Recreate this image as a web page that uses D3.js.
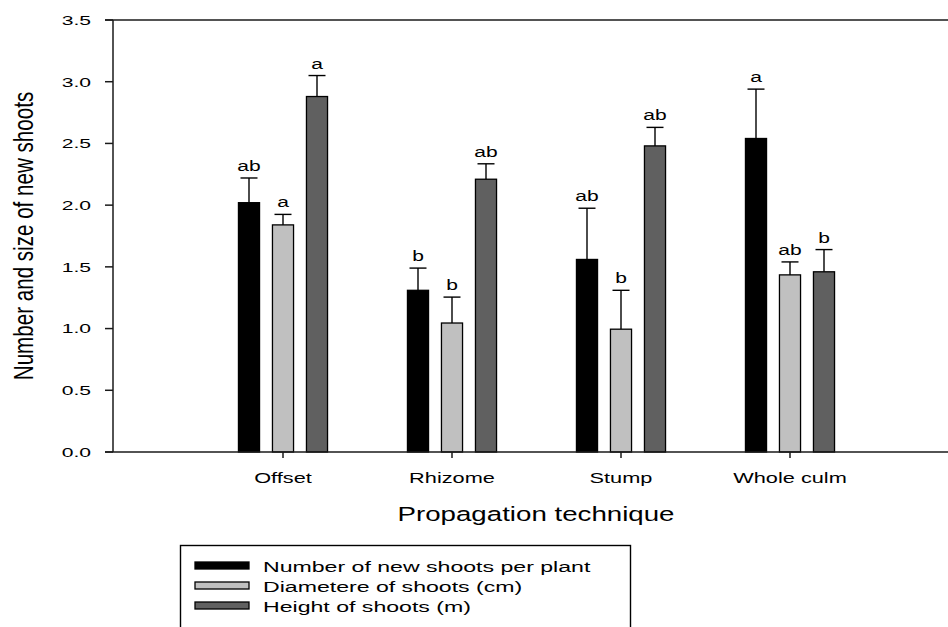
<!DOCTYPE html>
<html><head><meta charset="utf-8">
<script src="https://cdn.jsdelivr.net/npm/d3@7"></script>
<style>body{margin:0;background:#fff}svg{display:block}text{font-family:"Liberation Sans",Arial,sans-serif;fill:#000}</style>
</head><body><svg id="c" width="948" height="627"></svg>
<script>
const categories = ["Offset", "Rhizome", "Stump", "Whole culm"];
const seriesNames = ["Number of new shoots per plant", "Diametere of shoots (cm)", "Height of shoots (m)"];
const shootsNumber = [2.02, 1.31, 1.56, 2.54];
const shootsNumberErr = [0.20, 0.18, 0.415, 0.40];
const shootsDiameter = [1.84, 1.045, 0.995, 1.435];
const shootsDiameterErr = [0.085, 0.21, 0.315, 0.105];
const shootsHeight = [2.88, 2.21, 2.48, 1.46];
const shootsHeightErr = [0.17, 0.125, 0.15, 0.18];
const lettersNumber = ["ab", "b", "ab", "a"];
const lettersDiameter = ["a", "b", "b", "ab"];
const lettersHeight = ["a", "ab", "ab", "b"];
const yTicks = [0, 0.5, 1.0, 1.5, 2.0, 2.5, 3.0, 3.5];
const colors = ["#000000", "#c0c0c0", "#606060"];

const series = [
  {name: seriesNames[0], values: shootsNumber, errs: shootsNumberErr, letters: lettersNumber, color: colors[0]},
  {name: seriesNames[1], values: shootsDiameter, errs: shootsDiameterErr, letters: lettersDiameter, color: colors[1]},
  {name: seriesNames[2], values: shootsHeight, errs: shootsHeightErr, letters: lettersHeight, color: colors[2]}
];

const svg = d3.select("#c");
const axL = 113, axTop = 20, axBot = 452, axRight = 948;
const y = d3.scaleLinear().domain([0, 3.5]).range([axBot, axTop]);
const x = d3.scaleBand().domain(categories).range([198.5, 874.5]).padding(0);
const xs = d3.scaleBand().domain(d3.range(series.length)).range([-51, 51]).paddingInner(0.38).paddingOuter(0.19);

function sText(parent, tx, ty, sx, str, size, anchor) {
  return parent.append("text")
    .attr("transform", `translate(${tx},${ty}) scale(${sx},1)`)
    .attr("text-anchor", anchor || "middle")
    .attr("font-size", size)
    .text(str);
}

series.forEach((s, si) => {
  const g = svg.append("g");
  categories.forEach((c, ci) => {
    const cx = x(c) + x.bandwidth() / 2;
    const bx = cx + xs(si);
    const v = s.values[ci], e = s.errs[ci];
    const midx = bx + xs.bandwidth() / 2;
    g.append("line").attr("x1", midx).attr("x2", midx).attr("y1", y(v)).attr("y2", y(v + e))
      .attr("stroke", "#000").attr("stroke-width", 1.4);
    g.append("line").attr("x1", midx - 8.5).attr("x2", midx + 8.5).attr("y1", y(v + e)).attr("y2", y(v + e))
      .attr("stroke", "#000").attr("stroke-width", 1.4);
    g.append("rect").attr("x", bx).attr("y", y(v)).attr("width", xs.bandwidth()).attr("height", y(0) - y(v))
      .attr("fill", s.color).attr("stroke", "#000").attr("stroke-width", 1.3);
    sText(g, midx, y(v + e) - 7, 1.45, s.letters[ci], 14.5);
  });
});

const ax = svg.append("g").attr("stroke", "#1a1a1a").attr("stroke-width", 1.5);
ax.append("line").attr("x1", axL).attr("x2", axL).attr("y1", axTop).attr("y2", axBot);
ax.append("line").attr("x1", axL - 8).attr("x2", axRight).attr("y1", axTop).attr("y2", axTop);
ax.append("line").attr("x1", axL - 8).attr("x2", axRight).attr("y1", axBot).attr("y2", axBot);
yTicks.forEach(t => {
  ax.append("line").attr("x1", axL - 8).attr("x2", axL).attr("y1", y(t)).attr("y2", y(t));
  sText(svg, axL - 22, y(t) + 4.8, 1.6, d3.format(".1f")(t), 13.2, "end");
});
categories.forEach(c => {
  const cx = x(c) + x.bandwidth() / 2;
  ax.append("line").attr("x1", cx).attr("x2", cx).attr("y1", axBot).attr("y2", axBot + 6);
  sText(svg, cx, 483, 1.45, c, 15);
});

sText(svg, 536, 521, 1.42, "Propagation technique", 19.5);
svg.append("text")
  .attr("transform", `translate(33,236) scale(1.36,1) rotate(-90)`)
  .attr("text-anchor", "middle").attr("font-size", 20.6)
  .text("Number and size of new shoots");

const lg = svg.append("g");
lg.append("rect").attr("x", 180.5).attr("y", 545.5).attr("width", 450).attr("height", 100)
  .attr("fill", "#fff").attr("stroke", "#000").attr("stroke-width", 1.4);
series.forEach((s, i) => {
  const yy = 572 + i * 20;
  lg.append("rect").attr("x", 195).attr("y", yy - 10).attr("width", 54).attr("height", 7)
    .attr("fill", s.color).attr("stroke", "#000").attr("stroke-width", 1.3);
  sText(lg, 263, yy, 1.5, s.name, 15.4, "start");
});
</script></body></html>
